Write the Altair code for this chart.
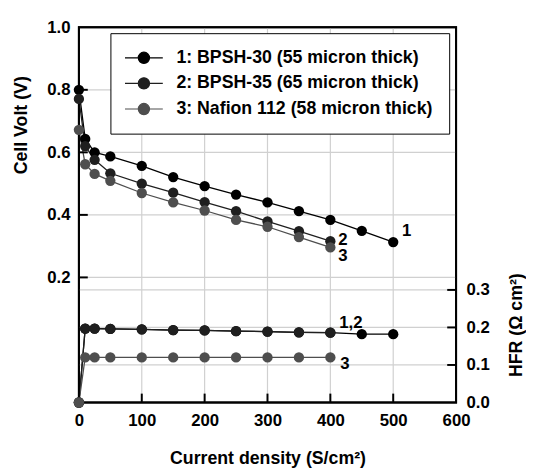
import altair as alt
import pandas as pd

# ---------------- data ----------------
series_names = [
    "1: BPSH-30 (55 micron thick)",
    "2: BPSH-35 (65 micron thick)",
    "3: Nafion 112 (58 micron thick)",
]
series_colors = ["#000000", "#1f1f1f", "#4e4e4e"]

current_1 = [0, 10, 25, 50, 100, 150, 200, 250, 300, 350, 400, 450, 500]
current_23 = [0, 10, 25, 50, 100, 150, 200, 250, 300, 350, 400]

volt_1 = [0.800, 0.643, 0.600, 0.587, 0.557, 0.521, 0.492, 0.465, 0.440, 0.412, 0.384, 0.349, 0.313]
volt_2 = [0.771, 0.620, 0.576, 0.533, 0.500, 0.471, 0.441, 0.412, 0.379, 0.348, 0.316]
volt_3 = [0.672, 0.562, 0.531, 0.509, 0.470, 0.440, 0.414, 0.384, 0.362, 0.329, 0.296]

hfr_1 = [0.0, 0.197, 0.197, 0.196, 0.195, 0.193, 0.192, 0.190, 0.189, 0.187, 0.186, 0.182, 0.182]
hfr_2 = [0.0, 0.197, 0.197, 0.196, 0.195, 0.193, 0.192, 0.190, 0.189, 0.187, 0.186]
hfr_3 = [0.0, 0.120, 0.120, 0.120, 0.120, 0.120, 0.120, 0.120, 0.120, 0.120, 0.120]

x_ticks = [0, 100, 200, 300, 400, 500, 600]
volt_ticks = [0.2, 0.4, 0.6, 0.8, 1.0]
volt_domain = [-0.2, 1.0]
hfr_ticks = [0.0, 0.1, 0.2, 0.3]
hfr_domain = [0.0, 1.0]

# ---------------- tables ----------------
rows = []
for name, cur, vv, hh in zip(series_names, [current_1, current_23, current_23],
                             [volt_1, volt_2, volt_3], [hfr_1, hfr_2, hfr_3]):
    for c, v, h in zip(cur, vv, hh):
        rows.append({"series": name, "current": c, "volt": v, "hfr": h})
df = pd.DataFrame(rows)

FONT = "Liberation Sans"
W, H = 383, 381
GRID = "#d0d0d0"
X0, X1 = x_ticks[0], x_ticks[-1]

xscale = alt.Scale(domain=[X0, X1], nice=False, zero=False)
vscale = alt.Scale(domain=volt_domain, nice=False, zero=False)
hscale = alt.Scale(domain=hfr_domain, nice=False, zero=False)

xaxis = alt.Axis(
    values=x_ticks, format="d", title="Current density (S/cm²)",
    grid=False, ticks=False, domain=False,
    labelPadding=10, labelFlush=False,
    titleY=62, titleBaseline="alphabetic",
)
yaxis_left = alt.Axis(
    values=volt_ticks, format=".1f", title="Cell Volt (V)", orient="left",
    grid=False, ticks=False, domain=False,
    labelPadding=9, labelFlush=False,
    titleAngle=270, titleX=-58, titleY=99, titleBaseline="middle", titleAlign="center",
)
yaxis_right = alt.Axis(
    values=hfr_ticks, format=".1f", title="HFR (Ω cm²)", orient="right",
    grid=False, ticks=False, domain=False,
    labelPadding=10, labelFlush=False,
    titleAngle=270, titleX=61, titleY=302, titleBaseline="middle", titleAlign="center",
)

SYMBOL = ("M-3.2,0L-0.95,0M0.95,0L3.2,0"
          "M0.95,0A0.95,0.95,0,1,1,-0.95,0A0.95,0.95,0,1,1,0.95,0Z")
legend = alt.Legend(
    title=None, orient="none", legendX=32, legendY=6, direction="vertical",
    symbolType=SYMBOL, symbolSize=144, symbolStrokeWidth=1.2,
    symbolStrokeColor="#222222", symbolOpacity=1, symbolOffset=9,
    labelOffset=24, labelFont=FONT, labelFontSize=18, labelFontWeight="bold",
    labelColor="black", labelLimit=0, padding=16, rowPadding=8,
    strokeColor="black", fillColor="white",
)
color = alt.Color("series:N", scale=alt.Scale(domain=series_names, range=series_colors),
                  legend=legend)

# stroke colours of the decorations go through a scale of their own
deco_kinds = ["grid", "frame"]
deco_stroke = alt.Stroke("kind:N", scale=alt.Scale(domain=deco_kinds, range=[GRID, "#000000"]),
                         legend=None)

x_enc = alt.X("current:Q", scale=xscale, axis=xaxis)
v_y = alt.Y("volt:Q", scale=vscale, axis=yaxis_left)
v_y_noaxis = alt.Y("volt:Q", scale=vscale, axis=None)
h_y = alt.Y("hfr:Q", scale=hscale, axis=yaxis_right)
h_y_noaxis = alt.Y("hfr:Q", scale=hscale, axis=None)

base = alt.Chart(df)

# ---------------- grid lines (2-point line paths) ----------------
xg = pd.DataFrame([{"gid": i, "current": t, "volt": v, "kind": "grid"}
                   for i, t in enumerate(x_ticks[1:-1]) for v in volt_domain])
vg = pd.DataFrame([{"gid": i, "current": c, "volt": t, "kind": "grid"}
                   for i, t in enumerate(volt_ticks[:-1]) for c in (X0, X1)])
hg = pd.DataFrame([{"gid": i, "current": c, "hfr": t, "kind": "grid"}
                   for i, t in enumerate(hfr_ticks[1:]) for c in (X0, X1)])
grid_mark = dict(strokeWidth=1.2, opacity=1, strokeOpacity=1)
xgrid = alt.Chart(xg).mark_line(**grid_mark).encode(
    x=x_enc, y=v_y_noaxis, detail="gid:N", stroke=deco_stroke, order="volt:Q")
vgrid = alt.Chart(vg).mark_line(**grid_mark).encode(
    x=x_enc, y=v_y_noaxis, detail="gid:N", stroke=deco_stroke)
hgrid = alt.Chart(hg).mark_line(**grid_mark).encode(
    x=x_enc, y=h_y_noaxis, detail="gid:N", stroke=deco_stroke)

# ---------------- frame of the plot area ----------------
fr = pd.DataFrame({"current": [X0, X0, X1, X1, X0],
                   "volt": [volt_domain[0], volt_domain[1], volt_domain[1],
                            volt_domain[0], volt_domain[0]],
                   "k": [0, 1, 2, 3, 4], "kind": ["frame"] * 5})
frame = alt.Chart(fr).mark_line(strokeWidth=2, opacity=1, strokeOpacity=1).encode(
    x=x_enc, y=v_y_noaxis, order="k:Q", stroke=deco_stroke)

# ---------------- inward ticks (stroke symbols) ----------------
def tick_marks(d, yenc, shape):
    d = d.assign(kind="frame")
    return alt.Chart(d).mark_point(shape=shape, size=81, filled=False, strokeWidth=2,
                                   opacity=1, strokeOpacity=1).encode(
        x=x_enc, y=yenc, stroke=deco_stroke)


left_ticks = tick_marks(pd.DataFrame({"current": [X0] * 4, "volt": volt_ticks[:-1]}),
                        v_y_noaxis, "M0,0H2")
bottom_ticks = tick_marks(pd.DataFrame({"current": x_ticks[1:-1],
                                        "volt": [volt_domain[0]] * 5}),
                          v_y_noaxis, "M0,0V-2")
right_ticks = tick_marks(pd.DataFrame({"current": [X1] * 3, "hfr": hfr_ticks[1:]}),
                         h_y_noaxis, "M0,0H-2")

# ---------------- series ----------------
volt_lines = base.mark_line(strokeWidth=1.3).encode(x=x_enc, y=v_y, color=color,
                                                    order=alt.Order("current:Q"))
volt_points = base.mark_point(filled=True, size=110, opacity=1).encode(
    x=x_enc, y=v_y_noaxis, color=color)
hfr_lines = base.mark_line(strokeWidth=1.3).encode(x=x_enc, y=h_y, color=color,
                                                   order=alt.Order("current:Q"))
hfr_points = base.mark_point(filled=True, size=110, opacity=1).encode(
    x=x_enc, y=h_y_noaxis, color=color)


def end_label(text, cur, val, field, yenc, dx, dy):
    d = pd.DataFrame({"current": [cur[-1]], field: [val[-1]], "label": [text]})
    return alt.Chart(d).mark_text(
        align="left", baseline="middle", dx=dx, dy=dy, font=FONT,
        fontSize=17, fontWeight="bold", color="black",
    ).encode(x=x_enc, y=yenc, text="label:N")


chart = alt.layer(
    xgrid, vgrid, hgrid,
    volt_lines, hfr_lines,
    frame, left_ticks, bottom_ticks, right_ticks,
    volt_points, hfr_points,
    end_label("1", current_1, volt_1, "volt", v_y_noaxis, 9, -11),
    end_label("2", current_23, volt_2, "volt", v_y_noaxis, 8, -1),
    end_label("3", current_23, volt_3, "volt", v_y_noaxis, 8, 9),
    end_label("1,2", current_23, hfr_2, "hfr", h_y_noaxis, 9, -10),
    end_label("3", current_23, hfr_3, "hfr", h_y_noaxis, 10, 7),
).resolve_scale(y="independent").properties(
    width=W, height=H,
    autosize=alt.AutoSizeParams(type="none"),
    padding={"left": 72, "top": 16, "right": 71, "bottom": 66},
).configure_view(
    stroke="black", strokeWidth=2,
).configure_axis(
    labelFont=FONT, labelFontSize=17, labelFontWeight="bold", labelColor="black",
    titleFont=FONT, titleFontSize=18, titleFontWeight="bold", titleColor="black",
)

chart.save("out.html", embed_options={"renderer": "svg", "actions": False})
